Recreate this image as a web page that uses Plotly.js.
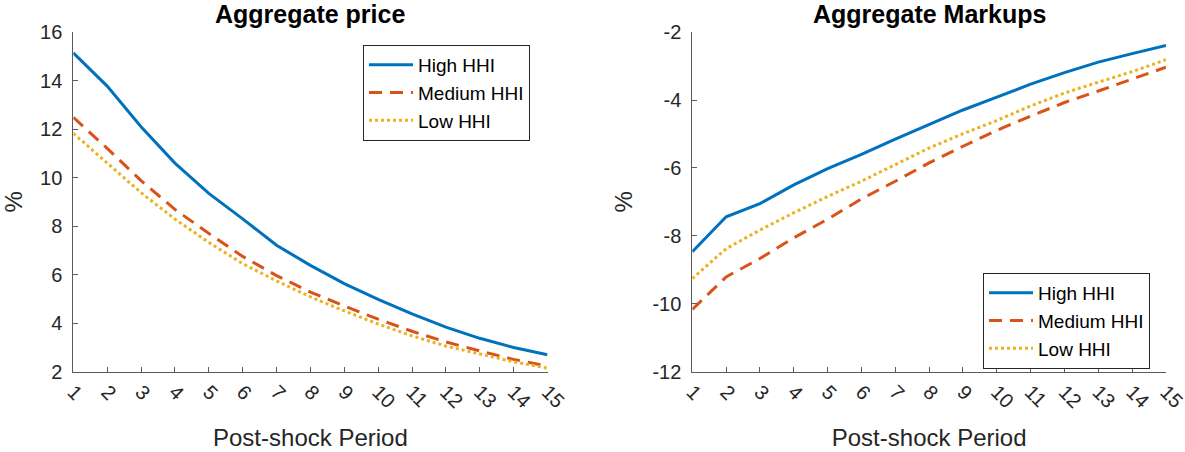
<!DOCTYPE html>
<html>
<head>
<meta charset="utf-8">
<script src="https://cdn.plot.ly/plotly-3.0.1.min.js"></script>
<style>html,body{margin:0;padding:0;background:#fff;}#chart{width:1185px;height:452px;}</style>
</head>
<body>
<div id="chart"></div>
<script>
const periods = [1,2,3,4,5,6,7,8,9,10,11,12,13,14,15];
const seriesNames = ['High HHI','Medium HHI','Low HHI'];

const priceHigh   = [15.15,13.78,12.10,10.60,9.35,8.30,7.21,6.38,5.63,4.98,4.38,3.83,3.37,2.99,2.69];
const priceMedium = [12.49,11.21,9.88,8.69,7.70,6.75,5.96,5.28,4.70,4.16,3.66,3.22,2.85,2.50,2.22];
const priceLow    = [11.83,10.60,9.38,8.29,7.33,6.45,5.74,5.08,4.50,3.96,3.47,3.05,2.72,2.40,2.14];

const markupHigh   = [-8.47,-7.44,-7.05,-6.50,-6.02,-5.60,-5.15,-4.73,-4.29,-3.91,-3.53,-3.19,-2.88,-2.63,-2.39];
const markupMedium = [-10.17,-9.21,-8.67,-8.06,-7.51,-6.91,-6.39,-5.85,-5.36,-4.89,-4.47,-4.07,-3.73,-3.39,-3.03];
const markupLow    = [-9.26,-8.38,-7.83,-7.32,-6.84,-6.39,-5.90,-5.41,-4.99,-4.60,-4.17,-3.79,-3.47,-3.16,-2.81];

const priceTicks  = [2,4,6,8,10,12,14,16];
const markupTicks = [-12,-10,-8,-6,-4,-2];

const titles = ['Aggregate price','Aggregate Markups'];
const xTitle = 'Post-shock Period';
const yTitle = '%';

const colors = ['#0072BD','#D95319','#EDB120'];
const dashes = ['solid','13px,8px','3px,3px'];
const FONT = 'Liberation Sans, Arial, Helvetica, sans-serif';
const TXT = '#262626';
const AX = '#5a5a5a';

function mk(y, i, xa, ya, leg) {
  return {x: periods, y: y, type: 'scatter', mode: 'lines', name: seriesNames[i],
    xaxis: xa, yaxis: ya, legend: leg,
    line: {color: colors[i], width: 3, dash: dashes[i]}};
}

const data = [
  mk(priceHigh,0,'x','y','legend'), mk(priceMedium,1,'x','y','legend'), mk(priceLow,2,'x','y','legend'),
  mk(markupHigh,0,'x2','y2','legend2'), mk(markupMedium,1,'x2','y2','legend2'), mk(markupLow,2,'x2','y2','legend2')
];

function xax(dom, anchor) {
  return {domain: dom, anchor: anchor, range: [1,15], tickvals: periods, ticktext: periods.map(String),
    tickangle: 45, ticks: 'inside', ticklen: 5, tickcolor: AX, showline: true, linecolor: AX,
    linewidth: 1, showgrid: false, zeroline: false, ticklabeloverflow: 'allow',
    tickfont: {size: 20, color: TXT, family: FONT},
    title: {text: xTitle, font: {size: 24, color: TXT, family: FONT}, standoff: 18}, automargin: false};
}
function yax(dom, anchor, range, ticks) {
  return {domain: dom, anchor: anchor, range: range, tickvals: ticks, ticktext: ticks.map(String),
    ticks: 'inside', ticklen: 5, tickcolor: AX, showline: true, linecolor: AX, linewidth: 1, showgrid: false,
    zeroline: false, ticklabeloverflow: 'allow', tickfont: {size: 20, color: TXT, family: FONT}, ticklabelstandoff: 6,
    title: {text: yTitle, font: {size: 24, color: TXT, family: FONT}, standoff: 12}, automargin: false};
}

const yDom = [1-371.5/452, 1-32.3/452];
const legendStyle = {bordercolor: '#262626', borderwidth: 1, bgcolor: '#fff',
  font: {size: 19, color: '#000', family: FONT}, itemwidth: 44, tracegroupgap: 0,
  xanchor: 'left', yanchor: 'top'};

const layout = {
  width: 1185, height: 452, margin: {l:0, r:0, t:0, b:0},
  paper_bgcolor: '#fff', plot_bgcolor: '#fff',
  font: {family: FONT, color: TXT},
  showlegend: true,
  xaxis: xax([73.3/1185, 547.5/1185], 'y'),
  yaxis: yax(yDom, 'x', [2,16], priceTicks),
  xaxis2: xax([692.3/1185, 1166/1185], 'y2'),
  yaxis2: yax(yDom, 'x2', [-12,-2], markupTicks),
  legend: Object.assign({x: 363/1185, y: 1-45/452}, legendStyle),
  legend2: Object.assign({x: 983/1185, y: 1-273/452}, legendStyle),
  annotations: [
    {text: '<b>'+titles[0]+'</b>', x: (73.3+547.5)/2/1185, y: 1-14/452, xref: 'paper', yref: 'paper',
     showarrow: false, xanchor: 'center', yanchor: 'middle', font: {size: 25, color: '#000', family: FONT}},
    {text: '<b>'+titles[1]+'</b>', x: (692.3+1166)/2/1185, y: 1-14/452, xref: 'paper', yref: 'paper',
     showarrow: false, xanchor: 'center', yanchor: 'middle', font: {size: 25, color: '#000', family: FONT}}
  ]
};

Plotly.newPlot('chart', data, layout, {displayModeBar: false, staticPlot: true});
</script>
</body>
</html>
